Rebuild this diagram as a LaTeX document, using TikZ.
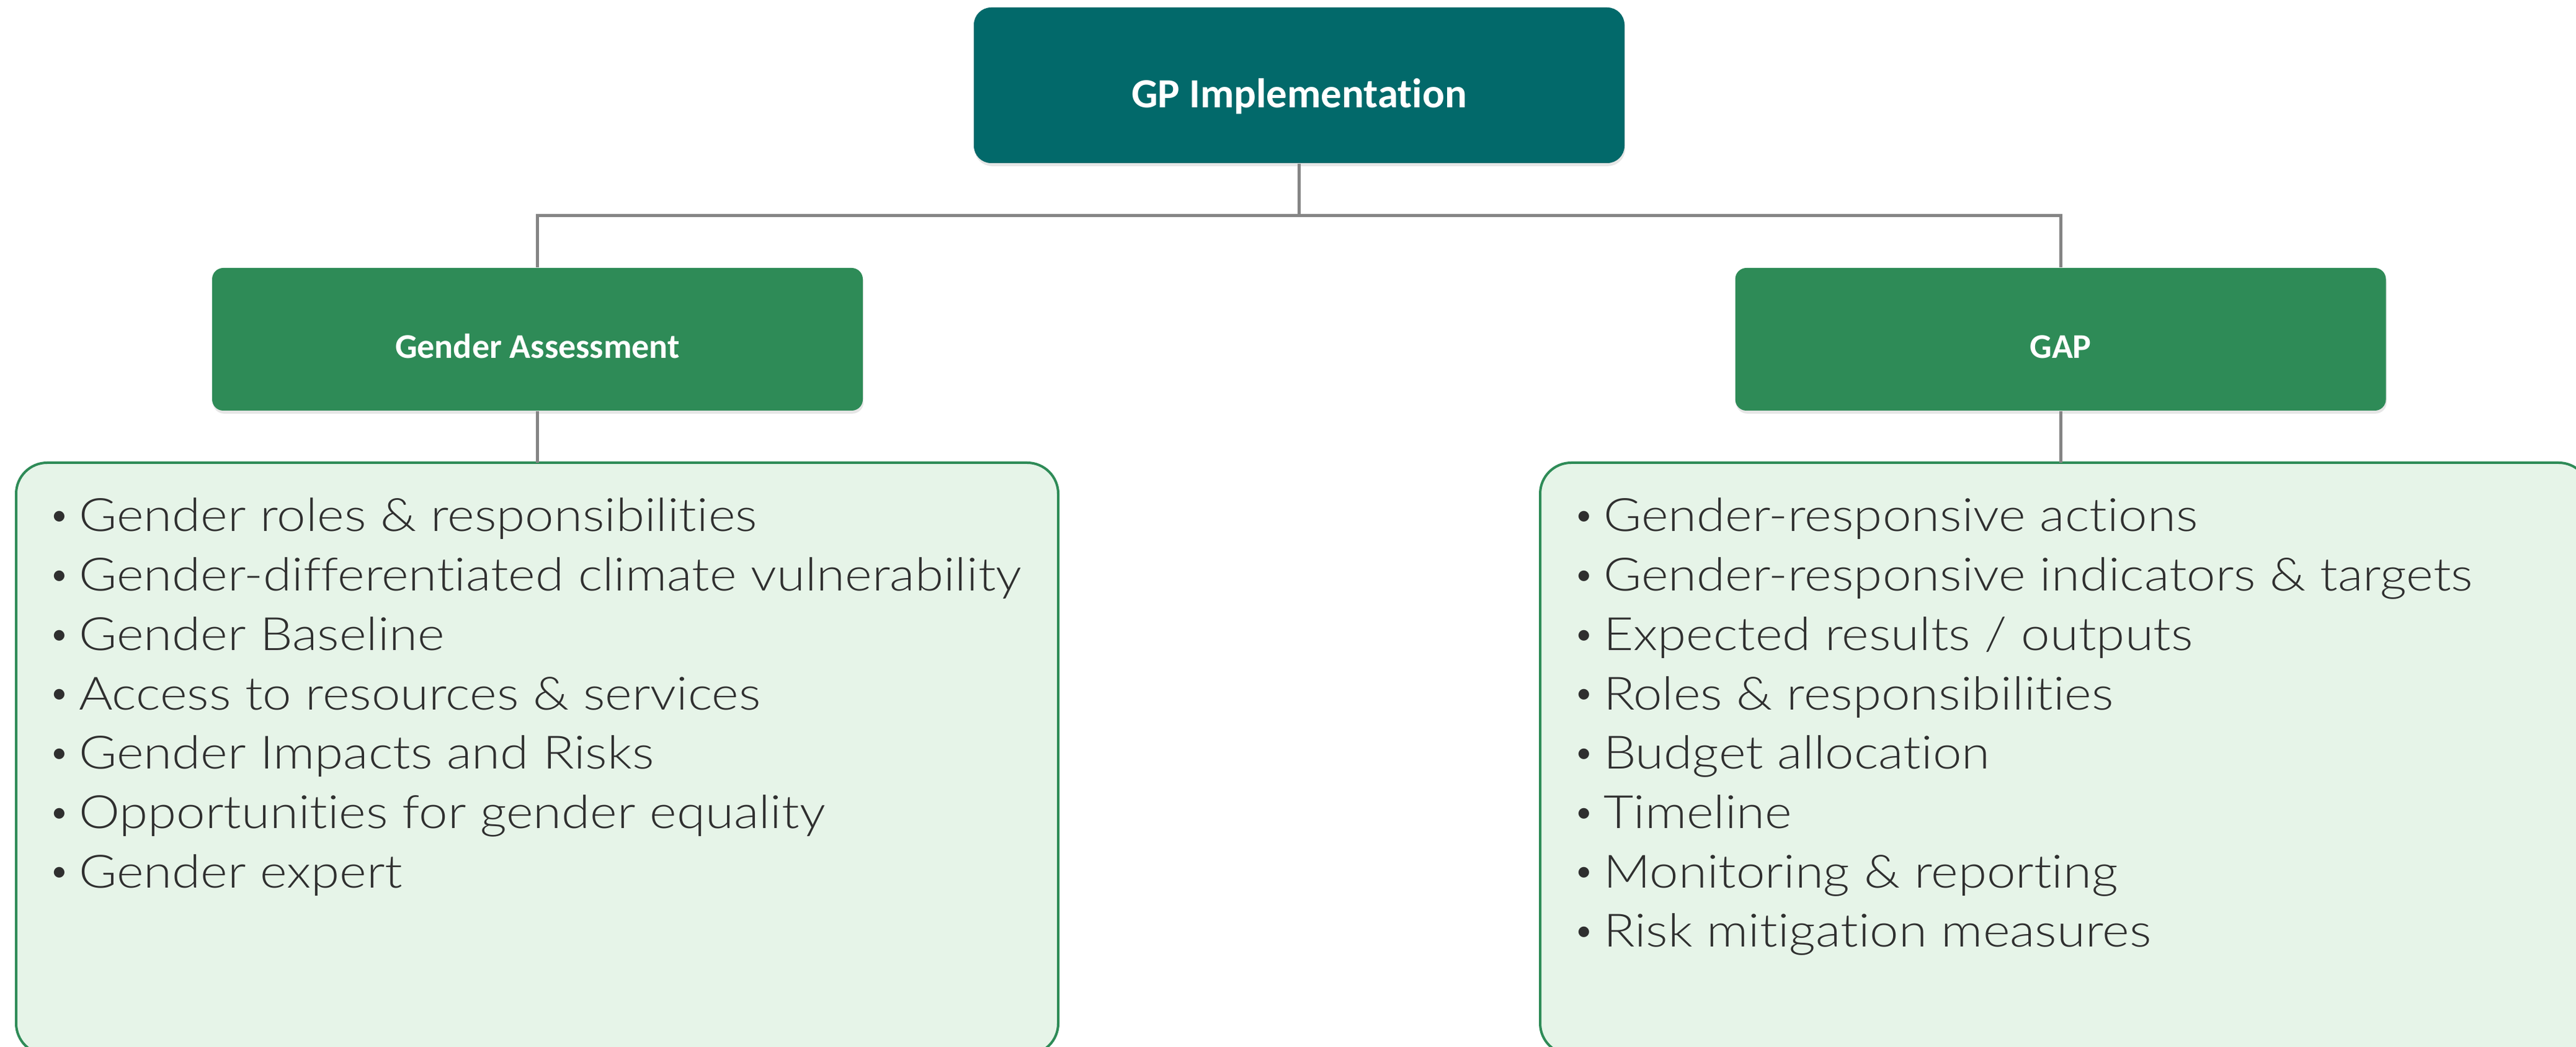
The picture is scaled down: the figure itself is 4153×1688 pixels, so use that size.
\documentclass[tikz,border=0pt]{standalone}
\usepackage{fontspec}
\usetikzlibrary{shadows}
\newfontfamily\bodyfont{Lato Light}[Ligatures=NoCommon, FakeStretch=1.128]
\newfontfamily\bulfont{Lato}
\newfontfamily\headfont{Carlito}[Ligatures=NoCommon]
\definecolor{teal}{HTML}{02696A}
\definecolor{sgreen}{HTML}{2E8B57}
\definecolor{palegreen}{HTML}{E6F4E8}
\definecolor{txtgray}{HTML}{2F2F2F}
\definecolor{linegray}{HTML}{858585}
\tikzset{
  topbox/.style={fill=teal, rounded corners=7pt, minimum width=262.25pt, minimum height=62.75pt,
    inner sep=0pt, text=white, font=\headfont\bfseries\fontsize{16.7}{19}\selectfont,
    text height=18.25pt, text depth=0pt,
    drop shadow={opacity=0.2, shadow xshift=0.3pt, shadow yshift=-1.2pt}},
  midbox/.style={fill=sgreen, rounded corners=4.5pt, minimum width=262.25pt, minimum height=57.5pt,
    inner sep=0pt, text=white, font=\headfont\bfseries\fontsize{14}{16}\selectfont,
    text height=15.5pt, text depth=0pt,
    drop shadow={opacity=0.2, shadow xshift=0.3pt, shadow yshift=-1.2pt}},
  listbox/.style={fill=palegreen, draw=sgreen, line width=1pt, rounded corners=12.5pt},
  item/.style={anchor=base west, inner sep=0pt, text=txtgray, font=\bodyfont\fontsize{18.5}{22}\selectfont},
  conn/.style={draw=linegray, line width=1.25pt},
}
\newcommand{\bul}[1]{\makebox[10.6pt][l]{\hspace{-0.5pt}\raisebox{2.6pt}{\bulfont\fontsize{11.5}{12}\selectfont •}}#1}
\begin{document}
\begin{tikzpicture}[x=0.25pt,y=-0.25pt]
\useasboundingbox (0,0) rectangle (4153,1688);
\clip (0,0) rectangle (4153,1688);
% list boxes
\path[listbox] (26,746) rectangle (1706,1700);
\path[listbox] (2483,746) rectangle (4175,1700);
\coordinate (lb) at (866.5,746);
\coordinate (rb) at (3322,746);
\coordinate (bus) at (0,348);
% header boxes
\node[topbox] (top) at (2094.5,137.5) {GP Implementation};
\node[midbox] (ga) at (866.5,547) {Gender Assessment};
\node[midbox] (gap) at (3322,547) {GAP};
% connectors
\draw[conn] (top.south) -- (top.south |- bus);
\draw[conn] (ga.north) -- (ga.north |- bus) -- (gap.north |- bus) -- (gap.north);
\draw[conn] (ga.south) -- (lb);
\draw[conn] (gap.south) -- (rb);
% left list
\node[item] (l1) at (84,857)    {\bul{Gender roles \& responsibilities}};
\node[item] (l2) at (84,952.7)  {\bul{Gender-differentiated climate vulnerability}};
\node[item] (l3) at (84,1048.4) {\bul{Gender Baseline}};
\node[item] (l4) at (84,1144.1) {\bul{Access to resources \& services}};
\node[item] (l5) at (84,1239.8) {\bul{Gender Impacts and Risks}};
\node[item] (l6) at (84,1335.5) {\bul{Opportunities for gender equality}};
\node[item] (l7) at (84,1431.2) {\bul{Gender expert}};
% right list
\node[item] (r1) at (2542,857)    {\bul{Gender-responsive actions}};
\node[item] (r2) at (2542,952.7)  {\bul{Gender-responsive indicators \& targets}};
\node[item] (r3) at (2542,1048.4) {\bul{Expected results / outputs}};
\node[item] (r4) at (2542,1144.1) {\bul{Roles \& responsibilities}};
\node[item] (r5) at (2542,1239.8) {\bul{Budget allocation}};
\node[item] (r6) at (2542,1335.5) {\bul{Timeline}};
\node[item] (r7) at (2542,1431.2) {\bul{Monitoring \& reporting}};
\node[item] (r8) at (2542,1526.9) {\bul{Risk mitigation measures}};
\end{tikzpicture}
\end{document}
